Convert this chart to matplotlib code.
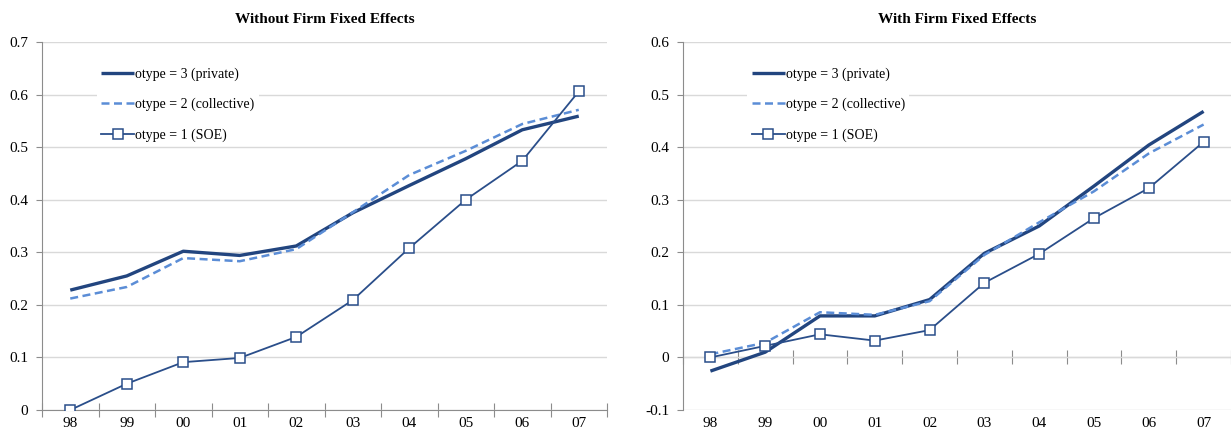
import matplotlib
matplotlib.use("Agg")
import matplotlib.pyplot as plt
from matplotlib.ticker import FuncFormatter
import numpy as np

years = ["98", "99", "00", "01", "02", "03", "04", "05", "06", "07"]

# Without firm fixed effects
wo_private = [0.228, 0.255, 0.302, 0.294, 0.312, 0.375, 0.427, 0.478, 0.533, 0.559]
wo_collective = [0.212, 0.234, 0.289, 0.283, 0.306, 0.376, 0.447, 0.493, 0.544, 0.571]
wo_soe = [0.000, 0.050, 0.091, 0.099, 0.139, 0.209, 0.308, 0.400, 0.474, 0.606]

# With firm fixed effects
w_private = [-0.026, 0.010, 0.079, 0.079, 0.110, 0.198, 0.250, 0.326, 0.404, 0.468]
w_collective = [0.006, 0.028, 0.086, 0.081, 0.107, 0.195, 0.257, 0.316, 0.388, 0.443]
w_soe = [0.000, 0.022, 0.044, 0.032, 0.052, 0.142, 0.197, 0.265, 0.322, 0.410]

labels = ["otype = 3 (private)", "otype = 2 (collective)", "otype = 1 (SOE)"]

plt.rcParams['font.family'] = ['Liberation Serif', 'DejaVu Serif']

c_priv = "#22457F"
c_coll = "#5B8DD6"
c_soe = "#2A4E8A"
gray = "#8C8C8C"

fig = plt.figure(figsize=(12.31, 4.34), dpi=100)
ax1 = fig.add_axes([42/1231, 1-410/434, 565/1231, 368/434])
ax2 = fig.add_axes([683/1231, 1-410/434, 548/1231, 368/434])

def fmt(v, pos):
    if abs(v) < 1e-9:
        return "0"
    return f"{v:.1f}"

def draw(ax, priv, coll, soe, ylim, title, leg_anchor):
    x = np.arange(len(years))
    l1, = ax.plot(x, priv, color=c_priv, lw=2.4, zorder=3, solid_capstyle='butt')
    l2, = ax.plot(x, coll, color=c_coll, lw=1.8, ls=(0, (3.2, 1.8)), zorder=3)
    l3, = ax.plot(x, soe, color=c_soe, lw=1.3, marker='s', markersize=7.5,
                  markerfacecolor='white', markeredgecolor=c_soe, markeredgewidth=1.1, zorder=4)
    ax.set_xlim(-0.5, len(years) - 0.5)
    ax.set_ylim(*ylim)
    ax.set_yticks(np.round(np.arange(ylim[0], ylim[1] + 1e-9, 0.1), 2))
    ax.yaxis.set_major_formatter(FuncFormatter(fmt))
    ax.grid(axis='y', color='#D9D9D9', lw=1.0, zorder=0)
    ax.set_axisbelow(True)
    for s in ['top', 'right']:
        ax.spines[s].set_visible(False)
    ax.spines['left'].set_color(gray)
    ax.tick_params(axis='y', direction='out', length=4, color=gray, labelsize=11, pad=6)
    ax.set_xticks(x)
    ax.set_xticklabels(years)
    ax.tick_params(axis='x', length=0, labelsize=11, pad=5)
    ax.set_title(title, fontsize=11, fontweight='bold', pad=14)
    ax.spines['bottom'].set_visible(False)
    sec = ax.secondary_xaxis((0 - ylim[0]) / (ylim[1] - ylim[0]))
    sec.spines['bottom'].set_color(gray)
    sec.set_xticks(np.arange(-0.5, len(years) + 0.5, 1.0))
    sec.set_xticklabels([])
    sec.tick_params(axis='x', direction='inout', length=10, color=gray)
    leg = ax.legend([l1, l2, l3], labels, loc='upper left', bbox_to_anchor=leg_anchor,
                    frameon=True, fancybox=False, edgecolor='none', facecolor='white',
                    framealpha=1.0, fontsize=10, labelspacing=1.2, handlelength=2.4,
                    handletextpad=0.05, borderpad=0.3)
    leg.set_zorder(5)

draw(ax1, wo_private, wo_collective, wo_soe, (0, 0.7), "Without Firm Fixed Effects", (0.085, 0.96))
draw(ax2, w_private, w_collective, w_soe, (-0.1, 0.6), "With Firm Fixed Effects", (0.105, 0.96))

fig.savefig("out.png", dpi=100)
